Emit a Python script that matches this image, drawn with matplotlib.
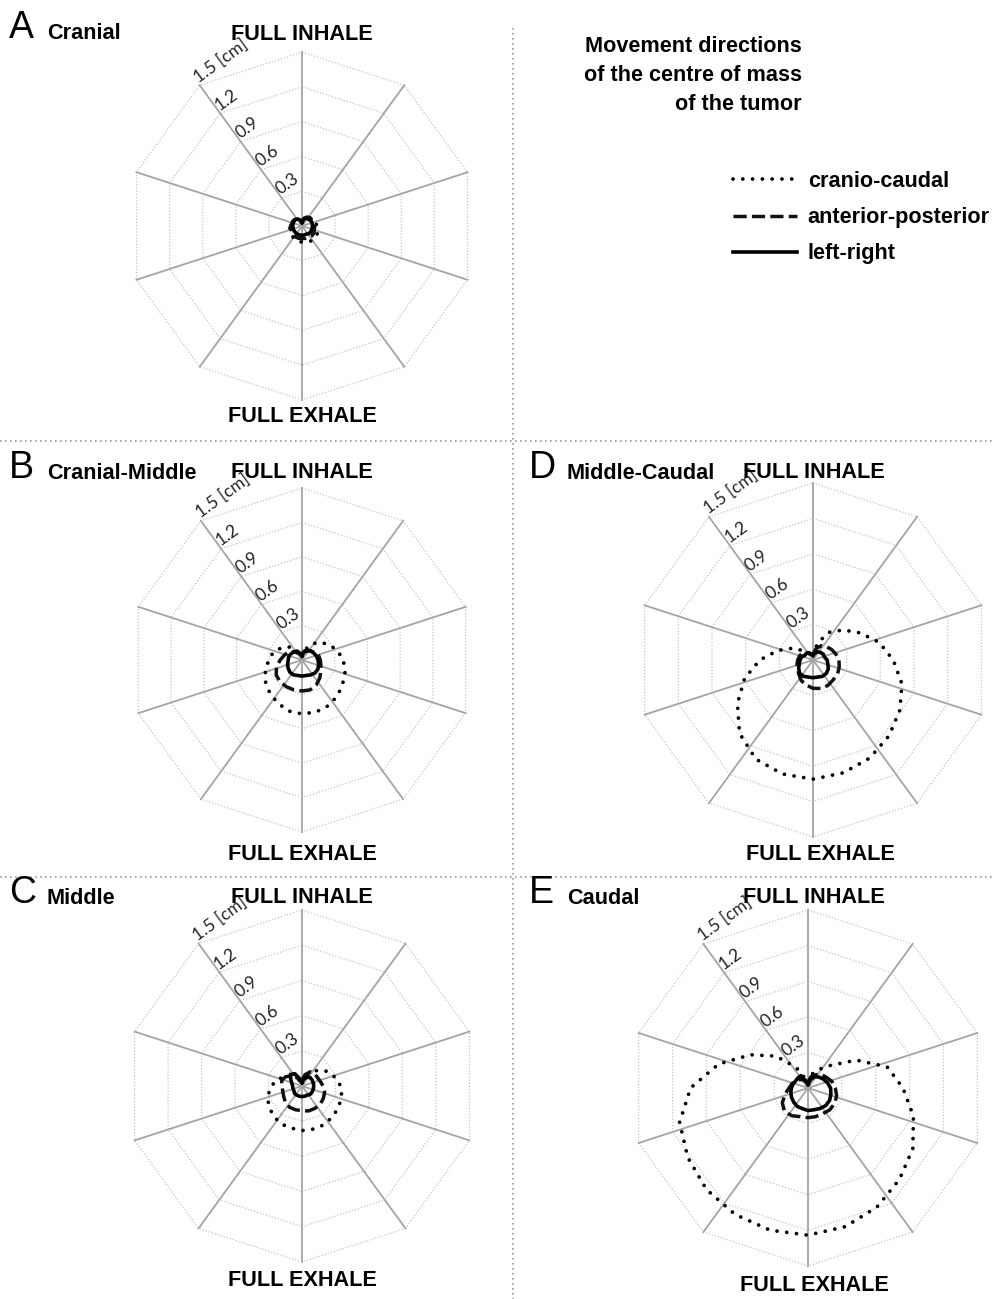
import numpy as np
import matplotlib
matplotlib.use("Agg")
import matplotlib.pyplot as plt
from matplotlib.lines import Line2D

# phase angle, clockwise from FULL INHALE (degrees)
phase_deg = [0, 15, 30, 45, 60, 75, 90, 105, 120, 135, 150, 165,
             180, 195, 210, 225, 240, 255, 270, 285, 300, 315, 330, 345]

ring_values = [0.3, 0.6, 0.9, 1.2, 1.5]
ring_labels = ["0.3", "0.6", "0.9", "1.2", "1.5 [cm]"]
n_spokes = 10

# displacement [cm] per tumour region
a_cc = [0.03, 0.06, 0.08, 0.10, 0.11, 0.12, 0.13, 0.14, 0.15, 0.15, 0.15, 0.14,
        0.14, 0.13, 0.13, 0.12, 0.12, 0.11, 0.10, 0.10, 0.09, 0.08, 0.06, 0.04]
a_ap = [0.04, 0.07, 0.09, 0.10, 0.10, 0.11, 0.11, 0.11, 0.12, 0.12, 0.11, 0.11,
        0.11, 0.11, 0.11, 0.11, 0.10, 0.10, 0.10, 0.09, 0.09, 0.08, 0.07, 0.05]
a_lr = [0.03, 0.06, 0.08, 0.08, 0.09, 0.09, 0.09, 0.09, 0.09, 0.09, 0.08, 0.08,
        0.08, 0.08, 0.08, 0.08, 0.08, 0.08, 0.08, 0.08, 0.08, 0.08, 0.07, 0.05]

b_cc = [0.03, 0.09, 0.16, 0.22, 0.27, 0.32, 0.36, 0.39, 0.41, 0.44, 0.46, 0.47,
        0.47, 0.46, 0.43, 0.40, 0.37, 0.33, 0.29, 0.26, 0.21, 0.16, 0.10, 0.05]
b_ap = [0.05, 0.07, 0.09, 0.11, 0.13, 0.15, 0.16, 0.17, 0.19, 0.22, 0.25, 0.27,
        0.27, 0.27, 0.27, 0.27, 0.26, 0.23, 0.19, 0.16, 0.14, 0.10, 0.07, 0.05]
b_lr = [0.04, 0.08, 0.10, 0.11, 0.12, 0.13, 0.14, 0.15, 0.16, 0.16, 0.15, 0.14,
        0.14, 0.14, 0.15, 0.15, 0.14, 0.13, 0.12, 0.12, 0.11, 0.10, 0.09, 0.06]

c_cc = [0.03, 0.07, 0.13, 0.19, 0.25, 0.29, 0.33, 0.35, 0.36, 0.37, 0.38, 0.38,
        0.38, 0.37, 0.37, 0.35, 0.33, 0.30, 0.26, 0.22, 0.16, 0.11, 0.07, 0.04]
c_ap = [0.05, 0.10, 0.14, 0.15, 0.15, 0.16, 0.18, 0.20, 0.21, 0.22, 0.22, 0.22,
        0.21, 0.21, 0.21, 0.20, 0.18, 0.17, 0.17, 0.18, 0.16, 0.12, 0.08, 0.05]
c_lr = [0.03, 0.06, 0.09, 0.10, 0.10, 0.10, 0.10, 0.10, 0.10, 0.10, 0.09, 0.09,
        0.09, 0.09, 0.09, 0.09, 0.08, 0.08, 0.08, 0.09, 0.11, 0.14, 0.12, 0.06]

d_cc = [0.04, 0.15, 0.27, 0.36, 0.46, 0.58, 0.68, 0.78, 0.85, 0.91, 0.96, 0.99,
        1.01, 1.00, 0.97, 0.88, 0.74, 0.60, 0.45, 0.31, 0.20, 0.11, 0.06, 0.04]
d_ap = [0.05, 0.10, 0.14, 0.16, 0.18, 0.20, 0.22, 0.23, 0.24, 0.24, 0.25, 0.25,
        0.24, 0.22, 0.20, 0.17, 0.15, 0.14, 0.13, 0.12, 0.11, 0.09, 0.07, 0.05]
d_lr = [0.04, 0.06, 0.08, 0.09, 0.10, 0.10, 0.12, 0.13, 0.15, 0.16, 0.16, 0.15,
        0.15, 0.15, 0.16, 0.16, 0.14, 0.12, 0.11, 0.10, 0.08, 0.08, 0.07, 0.05]

e_cc = [0.05, 0.12, 0.18, 0.27, 0.47, 0.69, 0.80, 0.92, 1.02, 1.09, 1.16, 1.21,
        1.24, 1.24, 1.23, 1.21, 1.17, 1.12, 0.99, 0.78, 0.56, 0.38, 0.20, 0.08]
e_ap = [0.05, 0.10, 0.13, 0.16, 0.18, 0.21, 0.23, 0.25, 0.26, 0.26, 0.25, 0.25,
        0.25, 0.25, 0.27, 0.28, 0.25, 0.20, 0.16, 0.14, 0.12, 0.10, 0.08, 0.05]
e_lr = [0.03, 0.07, 0.11, 0.13, 0.15, 0.17, 0.19, 0.20, 0.21, 0.21, 0.20, 0.19,
        0.19, 0.18, 0.18, 0.17, 0.16, 0.15, 0.14, 0.13, 0.12, 0.12, 0.12, 0.06]

# letter, name, centre (px), radius of 1.5 ring (px), label positions (px)
panels = [
    ("A", "Cranial", (302, 226), 174, (302, 40), (302, 422), (a_cc, a_ap, a_lr)),
    ("B", "Cranial-Middle", (302, 660), 172, (302, 478), (302, 860), (b_cc, b_ap, b_lr)),
    ("C", "Middle", (302, 1086), 176, (302, 903), (302, 1286), (c_cc, c_ap, c_lr)),
    ("D", "Middle-Caudal", (813, 660), 177, (814, 478), (820, 860), (d_cc, d_ap, d_lr)),
    ("E", "Caudal", (808, 1088), 178, (814, 903), (814, 1291), (e_cc, e_ap, e_lr)),
]
letter_pos = {"A": (9, 38), "B": (9, 478), "C": (9, 903), "D": (529, 478), "E": (529, 903)}

W, H = 993, 1299
fig = plt.figure(figsize=(W / 100, H / 100), dpi=100)

BOLD = dict(family=["Liberation Sans", "DejaVu Sans"], fontweight="bold", fontsize=15.6)

styles = [
    dict(linestyle=(0, (0.01, 2.6)), dash_capstyle="round", lw=2.7, color="black"),
    dict(linestyle=(0, (3.8, 1.5)), dash_capstyle="butt", lw=2.5, color="#111111"),
    dict(linestyle="-", lw=2.6, color="black"),
]
names = ["cranio-caudal", "anterior-posterior", "left-right"]


def fx(x):
    return x / W


def fy(y):
    return 1 - y / H


def polar_xy(theta_deg, r):
    t = np.radians(np.asarray(theta_deg, dtype=float))
    r = np.asarray(r, dtype=float)
    return r * np.sin(t), r * np.cos(t)


spoke_deg = np.arange(n_spokes) * 360 / n_spokes
half = 205

for letter, name, (cx, cy), rad, inhale_xy, exhale_xy, series in panels:
    pxcm = rad / 1.5
    lim = half / pxcm
    ax = fig.add_axes([fx(cx - half), fy(cy + half), 2 * half / W, 2 * half / H])
    ax.set_xlim(-lim, lim)
    ax.set_ylim(-lim, lim)
    ax.axis("off")

    # decagon rings
    for rv in ring_values:
        vx, vy = polar_xy(np.append(spoke_deg, 0), np.full(n_spokes + 1, rv))
        ax.plot(vx, vy, color="#c4c4c4", lw=0.9, linestyle=(0, (1, 1.5)), zorder=1)
    # spokes
    for sd in spoke_deg:
        sx, sy = polar_xy([sd, sd], [0, 1.5])
        ax.plot(sx, sy, color="#a4a4a4", lw=1.3, zorder=2)
    # ring labels along upper-left spoke
    for rv, lab in zip(ring_values, ring_labels):
        lx, ly = polar_xy(-36, rv)
        ax.text(lx + 0.01, ly, lab, rotation=36, rotation_mode="anchor",
                ha="left", va="bottom", fontsize=12.5,
                family=["Lato", "DejaVu Sans"], color="#222222", zorder=3)

    for vals, st in zip(series, styles):
        px, py = polar_xy(phase_deg + [phase_deg[0]], vals + [vals[0]])
        ax.plot(px, py, zorder=4, **st)

    fig.text(fx(inhale_xy[0]), fy(inhale_xy[1]), "FULL INHALE", ha="center", va="baseline", **BOLD)
    fig.text(fx(exhale_xy[0]), fy(exhale_xy[1]), "FULL EXHALE", ha="center", va="baseline", **BOLD)
    lx0, ly0 = letter_pos[letter]
    fig.text(fx(lx0), fy(ly0), letter, ha="left", va="baseline", fontsize=27,
             family=["Liberation Sans", "DejaVu Sans"])
    fig.text(fx(lx0 + 38), fy(ly0 + 1), name, ha="left", va="baseline", **BOLD)

# dotted separators
sep = fig.add_axes([0, 0, 1, 1])
sep.set_xlim(0, W)
sep.set_ylim(H, 0)
sep.axis("off")
sep.patch.set_alpha(0)
sep.plot([0, W], [441, 441], color="#9a9a9a", lw=1.2, linestyle=(0, (1, 2)))
sep.plot([0, W], [877, 877], color="#9a9a9a", lw=1.2, linestyle=(0, (1, 2)))
sep.plot([513, 513], [28, H], color="#9a9a9a", lw=1.2, linestyle=(0, (1, 2)))

# legend block
title_lines = ["Movement directions", "of the centre of mass", "of the tumor"]
for i, t in enumerate(title_lines):
    fig.text(fx(802), fy(52 + 29 * i), t, ha="right", va="baseline", **BOLD)

handles = [Line2D([], [], **st) for st in styles]
fig.legend(handles, names, loc="upper left", bbox_to_anchor=(fx(733), fy(171)),
           frameon=False, borderaxespad=0, borderpad=0, handlelength=2.95,
           handletextpad=0.5, labelspacing=0.7,
           prop=dict(family=["Liberation Sans", "DejaVu Sans"], weight="bold", size=15.6))

fig.savefig("out.png", dpi=100)
